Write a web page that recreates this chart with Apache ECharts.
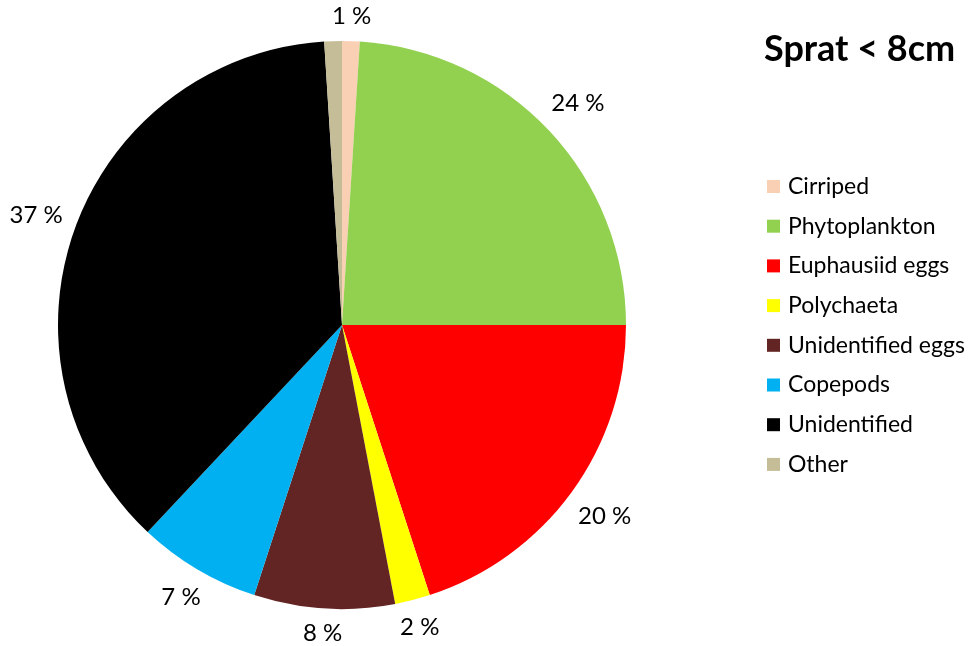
<!DOCTYPE html>
<html>
<head>
<meta charset="utf-8">
<title>Sprat &lt; 8cm – diet composition</title>
<script src="https://cdn.jsdelivr.net/npm/echarts@6/dist/echarts.min.js"></script>
<style>
  html, body { margin: 0; padding: 0; background: #fff; }
  #chart { width: 969px; height: 646px; }
</style>
</head>
<body>
<div id="chart"></div>
<script>
// Diet categories and their share (%) of stomach content
const categories = ['Cirriped', 'Phytoplankton', 'Euphausiid eggs', 'Polychaeta',
                    'Unidentified eggs', 'Copepods', 'Unidentified', 'Other'];
const shares = [1, 24, 20, 2, 8, 7, 37, 1];
const colors = ['#FAD0B4', '#92D050', '#FF0000', '#FFFF00',
                '#632523', '#00B0F0', '#000000', '#C4BD97'];
// Categories whose value label is not drawn
const unlabeled = ['Other'];

const FONT = 'Lato';
const CX = 342, CY = 325, R = 284;

// Mid angle (radians, clockwise from 12 o'clock) of each slice
const total = shares.reduce((a, b) => a + b, 0);
const midAngles = [];
let acc = 0;
shares.forEach(v => {
  midAngles.push(((acc + v / 2) / total) * 2 * Math.PI);
  acc += v;
});

const chart = echarts.init(document.getElementById('chart'), null, { renderer: 'canvas' });

chart.setOption({
  animation: false,
  backgroundColor: '#ffffff',
  title: {
    text: 'Sprat < 8cm',
    left: 759,
    top: 26,
    textStyle: { fontFamily: FONT, fontSize: 36, fontWeight: 'bold', color: '#000' }
  },
  legend: {
    orient: 'vertical',
    left: 762,
    top: 170,
    itemWidth: 13,
    itemHeight: 13,
    itemGap: 16.7,
    icon: 'rect',
    data: categories,
    textStyle: { fontFamily: FONT, fontSize: 23, lineHeight: 23, color: '#000', padding: [0, 0, 0, 3] }
  },
  series: [{
    type: 'pie',
    center: [CX, CY],
    radius: R,
    startAngle: 90,
    clockwise: true,
    avoidLabelOverlap: false,
    itemStyle: { borderWidth: 0 },
    label: {
      show: true,
      position: 'outside',
      fontFamily: FONT,
      fontSize: 24,
      color: '#000',
      formatter: p => p.value + ' %'
    },
    labelLine: { show: false },
    labelLayout: params => {
      const a = midAngles[params.dataIndex];
      const s = Math.sin(a), c = Math.cos(a);
      const w = params.labelRect.width, h = params.labelRect.height;
      const d = R + 12 + Math.abs(s) * w / 2 + Math.abs(c) * h / 2;
      return { x: CX + s * d, y: CY - c * d, align: 'center', verticalAlign: 'middle' };
    },
    emphasis: { disabled: true },
    data: categories.map((name, i) => ({
      name,
      value: shares[i],
      itemStyle: { color: colors[i] },
      label: { show: unlabeled.indexOf(name) < 0 }
    }))
  }]
});
</script>
</body>
</html>
